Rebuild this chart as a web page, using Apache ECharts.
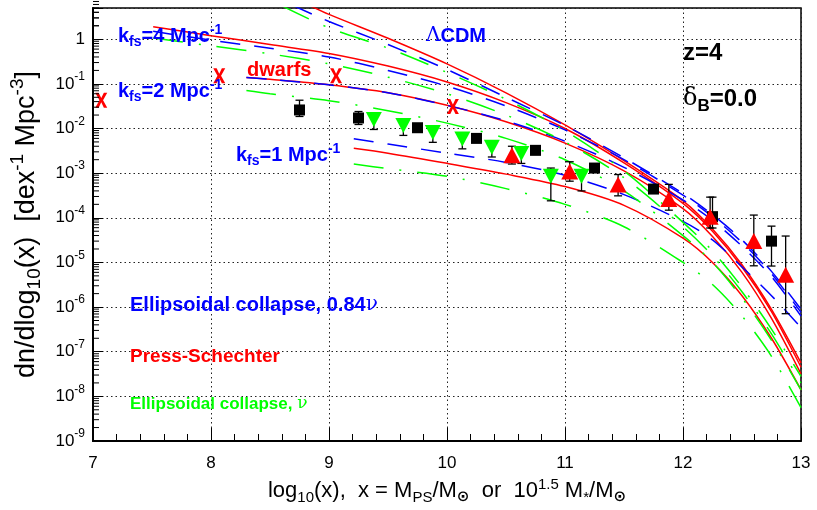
<!DOCTYPE html>
<html>
<head>
<meta charset="utf-8">
<script src="https://cdn.jsdelivr.net/npm/echarts@6/dist/echarts.min.js"></script>
<style>
  html, body { margin: 0; padding: 0; background: #fff; }
  #chart { width: 817px; height: 510px; }
</style>
</head>
<body>
<div id="chart"></div>
<script>
// Halo mass functions at z = 4: log10 mass on x, dn/dlog10(x) on y.
// Press-Schechter (red, solid)
const psLcdmX = [8.8, 9.0, 9.5, 10.0, 10.5, 11.0, 11.5, 12.0, 12.25, 12.5, 12.75, 13.0];
const psLcdmY = [6.3, 3.6, 1.05, 0.28, 0.063, 0.012, 1.9e-3, 2.4e-4, 5.6e-5, 8.9e-6, 8.9e-7, 5.6e-8];
const psK4X = [7.51, 8.0, 8.5, 9.0, 9.5, 10.0, 10.5, 11.0, 11.5, 12.0, 12.25, 12.5, 12.75, 13.0];
const psK4Y = [1.9, 1.2, 0.76, 0.48, 0.25, 0.11, 0.038, 0.010, 1.7e-3, 2.1e-4, 5.0e-5, 7.9e-6, 7.9e-7, 4.5e-8];
const psK2X = [8.3, 8.5, 9.0, 9.5, 10.0, 10.5, 11.0, 11.5, 12.0, 12.25, 12.5, 12.75, 13.0];
const psK2Y = [0.138, 0.126, 0.095, 0.063, 0.033, 0.0141, 4.7e-3, 1.12e-3, 1.6e-4, 3.8e-5, 6.0e-6, 5.6e-7, 3.2e-8];
const psK1X = [9.21, 9.5, 10.0, 10.5, 11.0, 11.5, 12.0, 12.25, 12.5, 12.75, 13.0];
const psK1Y = [3.6e-3, 2.8e-3, 1.66e-3, 9.5e-4, 5.0e-4, 1.9e-4, 3.5e-5, 1.0e-5, 1.8e-6, 2.0e-7, 1.4e-8];

// Ellipsoidal collapse with 0.84 nu (blue, dashed)
const ecaLcdmX = [8.7, 9.0, 9.5, 10.0, 10.5, 11.0, 11.5, 12.0, 12.25, 12.5, 12.75, 13.0];
const ecaLcdmY = [5.6, 2.5, 0.76, 0.21, 0.050, 0.0117, 2.2e-3, 3.5e-4, 1.17e-4, 3.2e-5, 6.3e-6, 8.9e-7];
const ecaK4X = [7.51, 8.0, 8.5, 9.0, 9.5, 10.0, 10.5, 11.0, 11.5, 12.0, 12.25, 12.5, 12.75, 13.0];
const ecaK4Y = [1.5, 0.95, 0.63, 0.40, 0.20, 0.089, 0.032, 9.3e-3, 2.0e-3, 3.2e-4, 1.05e-4, 2.8e-5, 5.6e-6, 7.6e-7];
const ecaK2X = [8.3, 8.5, 9.0, 9.5, 10.0, 10.5, 11.0, 11.5, 12.0, 12.25, 12.5, 12.75, 13.0];
const ecaK2Y = [0.138, 0.126, 0.095, 0.063, 0.033, 0.0148, 5.2e-3, 1.35e-3, 2.5e-4, 8.7e-5, 2.3e-5, 4.8e-6, 6.3e-7];
const ecaK1X = [9.21, 9.5, 10.0, 10.5, 11.0, 11.5, 12.0, 12.25, 12.5, 12.75, 13.0];
const ecaK1Y = [5.9e-3, 4.5e-3, 2.8e-3, 1.74e-3, 8.9e-4, 3.3e-4, 8.3e-5, 3.2e-5, 7.9e-6, 1.8e-6, 3.5e-7];

// Ellipsoidal collapse with nu (green, dash-dot)
const ecbLcdmX = [8.6, 9.0, 9.5, 10.0, 10.5, 11.0, 11.5, 12.0, 12.25, 12.5, 12.75, 13.0];
const ecbLcdmY = [5.6, 1.8, 0.63, 0.18, 0.045, 8.9e-3, 1.12e-3, 7.9e-5, 1.8e-5, 2.8e-6, 3.2e-7, 2.8e-8];
const ecbK4X = [7.51, 8.0, 8.5, 9.0, 9.5, 10.0, 10.5, 11.0, 11.5, 12.0, 12.25, 12.5, 12.75, 13.0];
const ecbK4Y = [1.07, 0.71, 0.47, 0.28, 0.141, 0.060, 0.020, 5.0e-3, 7.9e-4, 6.3e-5, 1.41e-5, 2.2e-6, 2.5e-7, 2.0e-8];
const ecbK2X = [8.3, 8.5, 9.0, 9.5, 10.0, 10.5, 11.0, 11.5, 12.0, 12.25, 12.5, 12.75, 13.0];
const ecbK2Y = [0.071, 0.060, 0.042, 0.025, 0.0132, 6.0e-3, 2.0e-3, 4.0e-4, 4.0e-5, 1.0e-5, 1.6e-6, 1.8e-7, 1.4e-8];
const ecbK1X = [9.21, 9.5, 10.0, 10.5, 11.0, 11.5, 12.0, 12.25, 12.5, 12.75, 13.0];
const ecbK1Y = [1.6e-3, 1.26e-3, 8.5e-4, 4.5e-4, 2.0e-4, 6.3e-5, 1.0e-5, 3.2e-6, 6.3e-7, 7.9e-8, 5.6e-9];

// Measurements: black squares
const sqX = [8.75, 9.25, 9.75, 10.25, 10.75, 11.25, 11.75, 12.25, 12.75];
const sqY = [0.026, 0.0172, 0.0104, 0.0060, 0.00324, 0.0013, 4.4e-4, 1.06e-4, 3.0e-5];
const sqLo = [0.0186, 0.0123, 0.0093, 0.0054, 0.0029, 0.00115, 3.8e-4, 5.9e-5, 8.3e-6];
const sqHi = [0.043, 0.024, 0.0116, 0.0067, 0.0036, 0.00147, 5.1e-4, 2.9e-4, 6.5e-5];
// green down-triangles
const dnX = [9.38, 9.63, 9.88, 10.13, 10.38, 10.63, 10.88, 11.14];
const dnY = [0.0158, 0.0117, 0.0081, 0.0058, 0.0038, 0.00275, 8.5e-4, 8.5e-4];
const dnLo = [0.0095, 0.0070, 0.0049, 0.0035, 0.0023, 0.00165, 2.4e-4, 4.0e-4];
const dnHi = [0.020, 0.0150, 0.0104, 0.0074, 0.0049, 0.0035, 1.3e-3, 1.2e-3];
// red up-triangles
const upX = [10.55, 11.04, 11.45, 11.88, 12.23, 12.6, 12.87];
const upY = [2.5e-3, 1.09e-3, 5.6e-4, 2.65e-4, 1.06e-4, 3.0e-5, 5.3e-6];
const upLo = [1.6e-3, 6.6e-4, 3.1e-4, 1.48e-4, 5.9e-5, 8.4e-6, 7.1e-7];
const upHi = [4.0e-3, 1.8e-3, 9.3e-4, 5.6e-4, 2.9e-4, 1.15e-4, 3.9e-5];
// dwarf galaxies (red crosses)
const dwX = [7.07, 8.07, 9.06, 10.05];
const dwY = [0.043, 0.151, 0.151, 0.031];

// axis ranges
const xMin = 7, xMax = 13;
const yMin = 1e-9, yMax = 5;

const FONT = "'Liberation Sans', Arial, Helvetica, sans-serif";
const RED = '#ff0000', BLUE = '#0000ff', GREEN = '#00ff00';

const zip = (xs, ys) => xs.map((x, i) => [x, ys[i]]);

function curve(name, xs, ys, color, dash) {
  return {
    name, type: 'line', data: zip(xs, ys), symbol: 'none',
    smooth: 0.3, clip: true, z: 2,
    lineStyle: { color, width: 1.5, type: dash }
  };
}

function errorBars(name, xs, lo, hi) {
  return {
    name, type: 'custom', z: 3, clip: true,
    data: xs.map((x, i) => [x, lo[i], hi[i]]),
    encode: { x: 0, y: [1, 2] },
    renderItem(params, api) {
      const top = api.coord([api.value(0), api.value(2)]);
      const bot = api.coord([api.value(0), api.value(1)]);
      const cw = 4;
      const st = { stroke: '#000', lineWidth: 1.3 };
      return {
        type: 'group', children: [
          { type: 'line', shape: { x1: top[0], y1: top[1], x2: bot[0], y2: bot[1] }, style: st },
          { type: 'line', shape: { x1: top[0] - cw, y1: top[1], x2: top[0] + cw, y2: top[1] }, style: st },
          { type: 'line', shape: { x1: bot[0] - cw, y1: bot[1], x2: bot[0] + cw, y2: bot[1] }, style: st }
        ]
      };
    }
  };
}

// logarithmic minor ticks (2..9 in every decade) on the left axis
const yMinorTicks = [];
for (let e = -9; e <= 0; e++) for (let k = 2; k <= 9; k++) yMinorTicks.push(k * Math.pow(10, e));
yMinorTicks.push(2, 3, 4);

const xCross = 'path://M0,0 L3.4,0 L6,5 L8.6,0 L12,0 L7.8,7 L12,14 L8.6,14 L6,9 L3.4,14 L0,14 L4.2,7 Z';

function textRich(color, size) {
  const small = Math.round(size * 0.7), off = Math.round(size * 0.6);
  return {
    m: { fill: color, fontSize: size, fontWeight: 'bold', fontFamily: FONT },
    g: { fill: color, fontSize: size, fontWeight: 'normal', fontFamily: "'DejaVu Serif', serif" },
    sub: { fill: color, fontSize: small, fontWeight: 'bold', fontFamily: FONT, padding: [off, 0, 0, 0] },
    sup: { fill: color, fontSize: small, fontWeight: 'bold', fontFamily: FONT, padding: [0, 0, off, 0] }
  };
}
function tag(x, y, text, color, size) {
  return {
    type: 'text', x, y, z: 100, silent: true,
    style: { text, rich: textRich(color, size), align: 'left', verticalAlign: 'middle' }
  };
}

const chart = echarts.init(document.getElementById('chart'), null, { renderer: 'canvas' });

const option = {
  animation: false,
  backgroundColor: '#fff',
  grid: { left: 93, right: 16, top: 8, bottom: 56, show: true, borderColor: '#000', borderWidth: 1.5, backgroundColor: 'transparent' },
  xAxis: {
    type: 'value', min: xMin, max: xMax, interval: 1,
    name: 'log{sub|10}(x),  x = M{sub|PS}/M{sun|⊙}  or  10{sup|1.5} M{sub|*}/M{sun|⊙}',
    nameLocation: 'middle', nameGap: 36,
    nameTextStyle: {
      color: '#000', fontFamily: FONT, fontSize: 22,
      rich: {
        sub: { fontSize: 15, fontFamily: FONT, color: '#000', padding: [13, 0, 0, 0] },
        sup: { fontSize: 15, fontFamily: FONT, color: '#000', padding: [0, 0, 13, 0] },
        sun: { fontSize: 15, fontFamily: "'DejaVu Sans', sans-serif", fontWeight: 'bold', color: '#000', padding: [13, 0, 0, 0] }
      }
    },
    axisLine: { show: true, onZero: false, lineStyle: { color: '#000', width: 2 } },
    axisTick: { show: true, inside: true, length: 13, lineStyle: { color: '#000', width: 1 } },
    minorTick: { show: true, splitNumber: 5, length: 7, lineStyle: { color: '#000', width: 1 } },
    axisLabel: { color: '#000', fontFamily: FONT, fontSize: 17, margin: 14 },
    splitLine: { show: true, lineStyle: { color: '#222', width: 1, type: [1.5, 3] } }
  },
  yAxis: {
    type: 'log', logBase: 10, min: yMin, max: yMax, interval: 1,
    name: 'dn/dlog{sub|10}(x)  [dex{sup|-1} Mpc{sup|-3}]',
    nameLocation: 'middle', nameGap: 42, nameRotate: 90,
    nameTextStyle: {
      color: '#000', fontFamily: FONT, fontSize: 27,
      rich: {
        sub: { fontSize: 19, fontFamily: FONT, color: '#000', padding: [17, 0, 0, 0] },
        sup: { fontSize: 19, fontFamily: FONT, color: '#000', padding: [0, 0, 17, 0] }
      }
    },
    axisLine: { show: true, onZero: false, lineStyle: { color: '#000', width: 2 } },
    axisTick: { show: true, inside: true, length: 10, lineStyle: { color: '#000', width: 1 } },
    axisLabel: {
      color: '#000', fontFamily: FONT, fontSize: 17, margin: 8, showMinLabel: true, showMaxLabel: true,
      formatter(v) {
        const lg = Math.log10(v), e = Math.round(lg);
        if (Math.abs(lg - e) > 1e-6) return '';
        if (e === 0) return '{b|1}';
        return '{b|10}{s|' + e + '}';
      },
      rich: {
        b: { fontSize: 17, fontFamily: FONT, color: '#000' },
        s: { fontSize: 12, fontFamily: FONT, color: '#000', padding: [0, 0, 14, 0] }
      }
    },
    splitLine: { show: true, lineStyle: { color: '#222', width: 1, type: [1.5, 3] } }
  },
  graphic: [
    tag(118, 36, '{m|k}{sub|fs}{m|=4 Mpc}{sup|-1}', BLUE, 20),
    tag(118, 91, '{m|k}{sub|fs}{m|=2 Mpc}{sup|-1}', BLUE, 20),
    tag(236, 155, '{m|k}{sub|fs}{m|=1 Mpc}{sup|-1}', BLUE, 20),
    tag(247, 70, '{m|dwarfs}', RED, 20),
    tag(426, 36, '{g|Λ}{m|CDM}', BLUE, 20),
    tag(683, 53, '{m|z=4}', '#000', 24),
    tag(683, 99, '{g|δ}{sub|B}{m|=0.0}', '#000', 24),
    tag(130, 305, '{m|Ellipsoidal collapse, 0.84}{g|ν}', BLUE, 20),
    tag(130, 357, '{m|Press-Schechter}', RED, 19),
    tag(130, 404, '{m|Ellipsoidal collapse, }{g|ν}', GREEN, 17)
  ],
  series: [
    {
      name: 'yMinorTicks', type: 'custom', z: 5, silent: true,
      data: yMinorTicks.map(v => [xMin, v]),
      renderItem(params, api) {
        const c = api.coord([api.value(0), api.value(1)]);
        return { type: 'line', shape: { x1: c[0], y1: c[1], x2: c[0] + 6, y2: c[1] }, style: { stroke: '#000', lineWidth: 1 } };
      }
    },
    curve('PS ΛCDM', psLcdmX, psLcdmY, RED, 'solid'),
    curve('PS kfs=4', psK4X, psK4Y, RED, 'solid'),
    curve('PS kfs=2', psK2X, psK2Y, RED, 'solid'),
    curve('PS kfs=1', psK1X, psK1Y, RED, 'solid'),
    curve('EC 0.84nu ΛCDM', ecaLcdmX, ecaLcdmY, BLUE, [20, 14]),
    curve('EC 0.84nu kfs=4', ecaK4X, ecaK4Y, BLUE, [20, 14]),
    curve('EC 0.84nu kfs=2', ecaK2X, ecaK2Y, BLUE, [20, 14]),
    curve('EC 0.84nu kfs=1', ecaK1X, ecaK1Y, BLUE, [20, 14]),
    curve('EC nu ΛCDM', ecbLcdmX, ecbLcdmY, GREEN, [30, 16, 2, 16]),
    curve('EC nu kfs=4', ecbK4X, ecbK4Y, GREEN, [30, 16, 2, 16]),
    curve('EC nu kfs=2', ecbK2X, ecbK2Y, GREEN, [30, 16, 2, 16]),
    curve('EC nu kfs=1', ecbK1X, ecbK1Y, GREEN, [30, 16, 2, 16]),
    errorBars('sqErr', sqX, sqLo, sqHi),
    errorBars('dnErr', dnX, dnLo, dnHi),
    errorBars('upErr', upX, upLo, upHi),
    {
      name: 'squares', type: 'scatter', z: 4, data: zip(sqX, sqY),
      symbol: 'rect', symbolSize: 11, itemStyle: { color: '#000', opacity: 1 }
    },
    {
      name: 'down', type: 'scatter', z: 4, data: zip(dnX, dnY),
      symbol: 'triangle', symbolRotate: 180, symbolSize: [16, 15], itemStyle: { color: GREEN, opacity: 1 }
    },
    {
      name: 'up', type: 'scatter', z: 4, data: zip(upX, upY),
      symbol: 'triangle', symbolSize: [17, 16], itemStyle: { color: RED, opacity: 1 }
    },
    {
      name: 'dwarfs', type: 'scatter', z: 4, data: zip(dwX, dwY),
      symbol: xCross, symbolSize: [12, 15], itemStyle: { color: RED, opacity: 1 }
    }
  ]
};

chart.setOption(option);
</script>
</body>
</html>
